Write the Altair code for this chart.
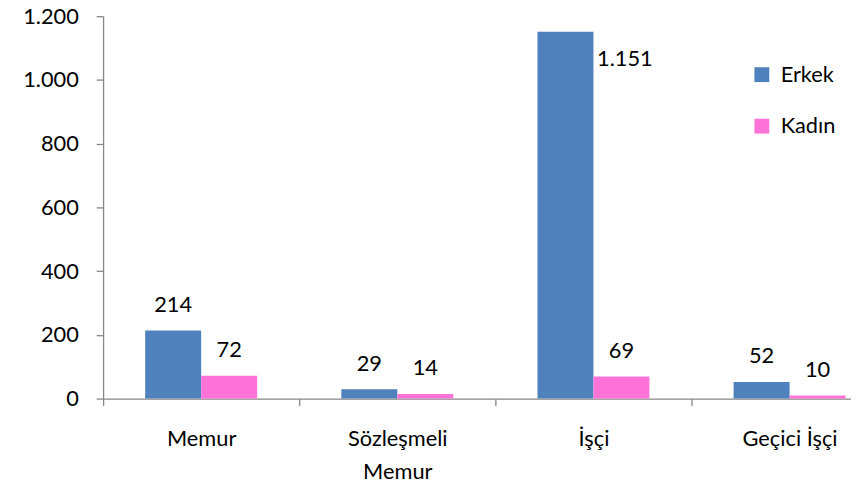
import altair as alt
import pandas as pd

categories = ["Memur", "Sözleşmeli Memur", "İşçi", "Geçici İşçi"]
series = ["Erkek", "Kadın"]
erkek = [214, 29, 1151, 52]
kadin = [72, 14, 69, 10]
colors = ["#4F81BD", "#FF73D9"]
y_ticks = [0, 200, 400, 600, 800, 1000, 1200]

rows = []
for c, e, k in zip(categories, erkek, kadin):
    rows.append({"kategori": c, "cinsiyet": "Erkek", "deger": e})
    rows.append({"kategori": c, "cinsiyet": "Kadın", "deger": k})
df = pd.DataFrame(rows)

FONT = "Lato"
AXIS_COLOR = "#868686"

x_enc = alt.X(
    "kategori:N",
    sort=categories,
    scale=alt.Scale(range=[0, 792], paddingInner=0, paddingOuter=0),
    axis=alt.Axis(
        title=None,
        labelAngle=0,
        tickBand="extent",
        tickSize=7,
        labelPadding=23,
        labelLineHeight=34,
        labelExpr="datum.label == 'Sözleşmeli Memur' ? ['Sözleşmeli', 'Memur'] : datum.label",
    ),
)
xoff_enc = alt.XOffset(
    "cinsiyet:N", sort=series, scale=alt.Scale(paddingInner=0, paddingOuter=0.752)
)
y_enc = alt.Y(
    "deger:Q",
    scale=alt.Scale(domain=[0, 1200], nice=False),
    axis=alt.Axis(
        title=None,
        values=y_ticks,
        grid=False,
        tickSize=7,
        labelPadding=18,
        labelExpr="replace(format(datum.value, ','), ',', '.')",
    ),
)

base = alt.Chart(df).transform_calculate(
    etiket="replace(format(datum.deger, ','), ',', '.')"
)

bars = base.mark_bar().encode(
    x=x_enc,
    xOffset=xoff_enc,
    y=y_enc,
    color=alt.Color(
        "cinsiyet:N",
        sort=series,
        scale=alt.Scale(domain=series, range=colors),
        legend=alt.Legend(
            title=None,
            orient="none",
            legendX=654,
            legendY=48,
            symbolType="square",
            symbolSize=225,
            symbolStrokeWidth=0,
            labelFontSize=22,
            labelFont=FONT,
            labelColor="#000000",
            rowPadding=30,
            labelOffset=8,
            padding=0,
        ),
    ),
)

labels = base.transform_filter("datum.deger < 1000").mark_text(
    dy=-19, baseline="alphabetic", fontSize=22, font=FONT, color="#000000"
).encode(x=x_enc, xOffset=xoff_enc, y=y_enc, text="etiket:N")

big_labels = base.transform_filter("datum.deger >= 1000").mark_text(
    dx=60, dy=35, baseline="alphabetic", fontSize=22, font=FONT, color="#000000"
).encode(x=x_enc, xOffset=xoff_enc, y=y_enc, text="etiket:N")

chart = (
    alt.layer(bars, labels, big_labels)
    .properties(
        width=755,
        height=386,
        autosize=alt.AutoSizeParams(type="none"),
        padding={"left": 96, "top": 6, "right": 0, "bottom": 90},
    )
    .configure_view(stroke=None)
    .configure_axis(
        labelFont=FONT,
        labelFontSize=22,
        labelColor="#000000",
        domainColor=AXIS_COLOR,
        tickColor=AXIS_COLOR,
        domainWidth=1.3,
        tickWidth=1.3,
    )
)

chart.save("out.html", embed_options={"renderer": "svg", "actions": False})
